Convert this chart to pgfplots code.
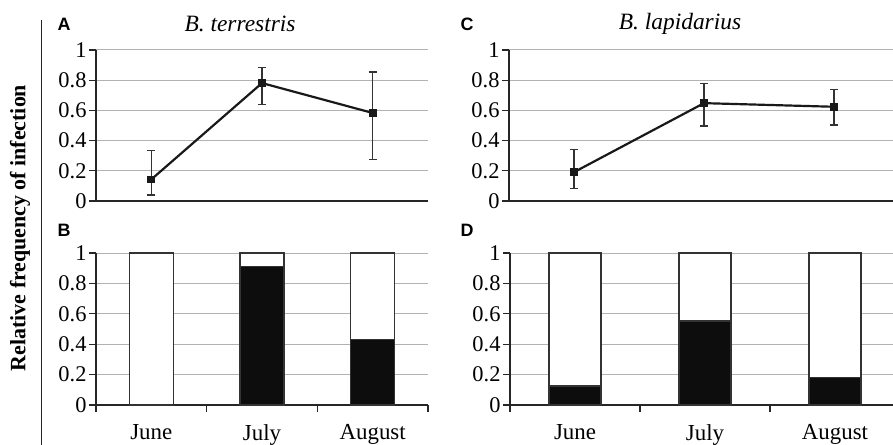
\documentclass[border=0pt]{standalone}
\usepackage{fontspec}
\setmainfont{Liberation Serif}
\newfontfamily\panelfont{Liberation Sans}
\usepackage{pgfplots}
\pgfplotsset{compat=1.18}

\pgfplotsset{
  panel/.style={
    scale only axis,
    axis lines*=left,
    xmin=-0.5, xmax=2.5,
    ymin=0, ymax=1,
    ytick={0,0.2,0.4,0.6,0.8,1},
    yticklabels={0,0.2,0.4,0.6,0.8,1},
    ymajorgrids,
    grid style={black!30, line width=1pt},
    tick align=outside,
    major tick length=7bp,
    tick style={black!85, line width=1.1pt},
    axis line style={black!85, line width=2pt},
    tick label style={font=\fontsize{22.5}{25}\selectfont},
    yticklabel style={xshift=1bp},
    /pgf/number format/assume math mode=true,
    clip=false,
  },
  linepanel/.style={panel, xtick=\empty},
  barpanel/.style={panel,
    ybar stacked, bar width=0.4,
    xtick={-0.5,0.5,1.5,2.5}, xticklabels={},
    extra x ticks={0,1,2},
    extra x tick labels={June,July,August},
    extra x tick style={major tick length=0pt,
      xticklabel style={yshift=-16bp, font=\fontsize{23}{26}\selectfont}},
  },
  ptline/.style={black!90, line width=2.2pt, mark=square*,
    mark options={solid, scale=1.4},
    error bars/.cd, y dir=both, y explicit,
    error bar style={black!80, line width=1.2pt},
    error mark options={rotate=90, mark size=4bp, black!80, line width=1.2pt}},
  blackbar/.style={fill=black!95, draw=black!80, line width=1.3pt},
  whitebar/.style={fill=white, draw=black!80, line width=1.3pt},
}

\begin{document}
\begin{tikzpicture}
\useasboundingbox (0,0) rectangle (893bp,445bp);

% A
\begin{axis}[linepanel, at={(96bp,244bp)}, anchor=south west,
  width=332bp, height=151bp]
  \addplot[ptline] coordinates {
    (0,0.143) += (0,0.193) -= (0,0.103)
    (1,0.781) += (0,0.102) -= (0,0.141)
    (2,0.583) += (0,0.271) -= (0,0.309)
  };
\end{axis}

% B
\begin{axis}[barpanel, at={(96bp,40bp)}, anchor=south west,
  width=332bp, height=152bp]
  \addplot[blackbar] coordinates {(0,0) (1,0.91) (2,0.43)};
  \addplot[whitebar] coordinates {(0,1) (1,0.09) (2,0.57)};
\end{axis}

% C
\begin{axis}[linepanel, at={(509bp,244bp)}, anchor=south west,
  width=390bp, height=151bp]
  \addplot[ptline] coordinates {
    (0,0.191) += (0,0.152) -= (0,0.107)
    (1,0.648) += (0,0.132) -= (0,0.151)
    (2,0.624) += (0,0.114) -= (0,0.121)
  };
\end{axis}

% D
\begin{axis}[barpanel, at={(510bp,40bp)}, anchor=south west,
  width=390bp, height=152bp]
  \addplot[blackbar] coordinates {(0,0.125) (1,0.553) (2,0.18)};
  \addplot[whitebar] coordinates {(0,0.875) (1,0.447) (2,0.82)};
\end{axis}

\draw[black!85, line width=1pt] (41bp,0bp) -- (41bp,425bp);
\node[rotate=90, font=\fontsize{22}{25}\selectfont\bfseries]
  at (20bp,217bp) {Relative frequency of infection};

\node[font=\panelfont\bfseries\fontsize{18}{20}\selectfont] at (64bp,421bp) {A};
\node[font=\panelfont\bfseries\fontsize{18}{20}\selectfont] at (64bp,215bp) {B};
\node[font=\panelfont\bfseries\fontsize{18}{20}\selectfont] at (467bp,421bp) {C};
\node[font=\panelfont\bfseries\fontsize{18}{20}\selectfont] at (467bp,215bp) {D};

\node[font=\fontsize{23.5}{26}\selectfont\itshape] at (240bp,421bp) {B. terrestris};
\node[font=\fontsize{23.5}{26}\selectfont\itshape] at (680bp,421bp) {B. lapidarius};
\end{tikzpicture}
\end{document}
